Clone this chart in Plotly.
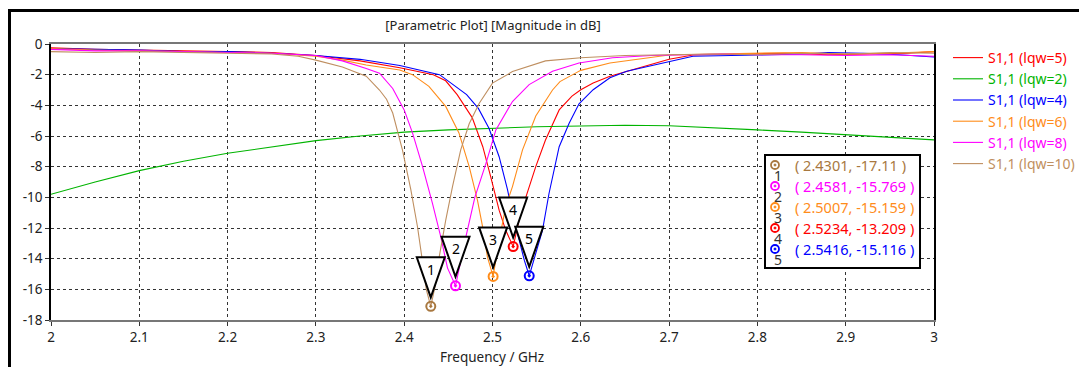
import plotly.graph_objects as go

# ---------------- data ----------------
f_lqw5 = [2.0, 2.05, 2.1, 2.15, 2.2, 2.25, 2.30, 2.35, 2.395, 2.433, 2.447, 2.46, 2.477, 2.489, 2.498,
          2.5075, 2.515, 2.5234, 2.530, 2.5377, 2.549, 2.560, 2.5755, 2.59, 2.6, 2.614, 2.633, 2.671,
          2.7, 2.727, 2.78, 2.83, 2.88, 2.93, 2.97, 3.0]
s_lqw5 = [-0.25, -0.35, -0.4, -0.45, -0.5, -0.55, -0.75, -1.1, -1.55, -2.0, -2.4, -3.3, -4.8, -6.7, -8.66,
          -10.84, -12.15, -13.209, -11.5, -10.0, -8.0, -6.26, -4.3, -3.4, -2.98, -2.55, -2.1, -1.45,
          -1.0, -0.72, -0.65, -0.6, -0.7, -0.65, -0.6, -0.5]

f_lqw2 = [2.0, 2.05, 2.1, 2.15, 2.2, 2.25, 2.3, 2.35, 2.4, 2.45, 2.5, 2.55, 2.6, 2.65, 2.7, 2.75,
          2.8, 2.85, 2.9, 2.95, 3.0]
s_lqw2 = [-9.8, -9.0, -8.26, -7.65, -7.13, -6.7, -6.3, -6.0, -5.75, -5.6, -5.5, -5.4, -5.35, -5.3,
          -5.33, -5.45, -5.6, -5.75, -5.93, -6.08, -6.25]

f_lqw4 = [2.0, 2.05, 2.1, 2.15, 2.2, 2.25, 2.30, 2.35, 2.395, 2.44, 2.4707, 2.484, 2.496, 2.5075, 2.517,
          2.5226, 2.530, 2.536, 2.5416, 2.549, 2.5566, 2.564, 2.5755, 2.5868, 2.598, 2.614, 2.633,
          2.652, 2.7, 2.727, 2.8, 2.85, 2.88, 2.92, 2.96, 3.0]
s_lqw4 = [-0.3, -0.35, -0.4, -0.5, -0.5, -0.6, -0.75, -1.0, -1.4, -2.0, -3.3, -4.2, -5.5, -7.35, -9.5,
          -11.06, -12.8, -14.1, -15.116, -13.7, -12.15, -9.75, -6.7, -5.17, -3.9, -2.98, -2.2,
          -1.78, -1.13, -0.8, -0.72, -0.65, -0.55, -0.6, -0.7, -0.85]

f_lqw6 = [2.0, 2.05, 2.1, 2.15, 2.2, 2.25, 2.30, 2.33, 2.357, 2.395, 2.4094, 2.428, 2.447, 2.462, 2.4736,
          2.483, 2.4887, 2.4943, 2.5007, 2.5075, 2.515, 2.5226, 2.534, 2.549, 2.568, 2.5764, 2.594,
          2.6, 2.633, 2.7, 2.75, 2.8, 2.85, 2.9, 2.95, 3.0]
s_lqw6 = [-0.3, -0.4, -0.45, -0.5, -0.55, -0.6, -0.8, -1.05, -1.37, -1.7, -2.0, -2.76, -4.07, -5.8, -8.0,
          -10.2, -11.9, -13.9, -15.159, -12.8, -10.6, -9.3, -6.9, -4.7, -3.0, -2.45, -1.9,
          -1.72, -1.24, -0.72, -0.65, -0.6, -0.55, -0.65, -0.6, -0.5]

f_lqw8 = [2.0, 2.05, 2.1, 2.15, 2.2, 2.25, 2.30, 2.33, 2.357, 2.372, 2.387, 2.40, 2.4094, 2.4208, 2.432,
          2.4415, 2.449, 2.4581, 2.4698, 2.48, 2.4925, 2.5038, 2.5226, 2.5415, 2.568, 2.598, 2.636,
          2.68, 2.72, 2.76, 2.80, 2.85, 2.90, 2.95, 3.0]
s_lqw8 = [-0.35, -0.45, -0.45, -0.5, -0.55, -0.6, -0.75, -1.1, -1.6, -1.9, -2.9, -4.3, -5.8, -8.0, -10.4,
          -12.6, -14.6, -15.769, -12.6, -10.0, -7.8, -5.6, -3.75, -2.65, -1.78, -1.24, -0.9,
          -0.75, -0.7, -0.65, -0.7, -0.7, -0.75, -0.7, -0.8]

f_lqw10 = [2.0, 2.05, 2.1, 2.15, 2.2, 2.25, 2.28, 2.30, 2.33, 2.357, 2.372, 2.38, 2.387, 2.398, 2.4075,
           2.415, 2.42, 2.425, 2.4301, 2.435, 2.4396, 2.447, 2.4547, 2.464, 2.4736, 2.485, 2.50,
           2.5226, 2.56, 2.60, 2.65, 2.70, 2.75, 2.80, 2.85, 2.90, 2.95, 3.0]
s_lqw10 = [-0.5, -0.55, -0.5, -0.55, -0.6, -0.65, -0.8, -1.05, -1.5, -2.1, -3.0, -3.6, -4.5, -6.9, -9.5,
           -11.9, -13.9, -16.0, -17.11, -15.8, -13.9, -11.5, -9.3, -6.9, -5.2, -3.86, -2.55,
           -1.8, -1.1, -0.9, -0.75, -0.7, -0.65, -0.7, -0.6, -0.65, -0.55, -0.6]

series_names = ["S1,1 (lqw=5)", "S1,1 (lqw=2)", "S1,1 (lqw=4)", "S1,1 (lqw=6)", "S1,1 (lqw=8)", "S1,1 (lqw=10)"]
series_colors = ["#ff0000", "#00b400", "#0000ff", "#ff8c1a", "#ff00ff", "#bf8f60"]
series_f = [f_lqw5, f_lqw2, f_lqw4, f_lqw6, f_lqw8, f_lqw10]
series_s = [s_lqw5, s_lqw2, s_lqw4, s_lqw6, s_lqw8, s_lqw10]

marker_ids = ["1", "2", "3", "4", "5"]
marker_f = [2.4301, 2.4581, 2.5007, 2.5234, 2.5416]
marker_db = [-17.11, -15.769, -15.159, -13.209, -15.116]
marker_colors = ["#a87840", "#ff00ff", "#ff8c1a", "#ff0000", "#0000ff"]

x_ticks = [2.0, 2.1, 2.2, 2.3, 2.4, 2.5, 2.6, 2.7, 2.8, 2.9, 3.0]
x_ticktext = ["2", "2.1", "2.2", "2.3", "2.4", "2.5", "2.6", "2.7", "2.8", "2.9", "3"]
y_ticks = [0, -2, -4, -6, -8, -10, -12, -14, -16, -18]
y_ticktext = ["0", "-2", "-4", "-6", "-8", "-10", "-12", "-14", "-16", "-18"]

# ---------------- layout geometry ----------------
# page body has an 8px margin; all window-pixel positions are shifted by OFF
OFF = 8
W, H = 1087 - OFF, 367 - OFF
L, R, T, B = 51 - OFF, 934 - OFF, 44 - OFF, 320 - OFF


def px(x):
    return (x - OFF - L) / (R - L)


def py(y):
    return (B - (y - OFF)) / (B - T)


FONT = "Noto Sans"

fig = go.Figure()
for name, col, fx, sy in zip(series_names, series_colors, series_f, series_s):
    fig.add_trace(go.Scatter(
        x=fx, y=sy, mode="lines", line=dict(color=col, width=1.1),
        name=f"<span style='color:{col}'>{name}</span>",
    ))

fig.add_trace(go.Scatter(
    x=marker_f, y=marker_db, mode="markers", showlegend=False,
    marker=dict(symbol="circle-open-dot", size=9, color=marker_colors, line=dict(width=2, color=marker_colors)),
))

shapes = []
annotations = []
# triangle labels
for mid, mf, md in zip(marker_ids, marker_f, marker_db):
    shapes.append(dict(
        type="path", xref="x", yref="y", xsizemode="pixel", ysizemode="pixel",
        xanchor=mf, yanchor=md, path="M -14,49 L 14,49 L 0,9 Z",
        fillcolor="white", line=dict(color="black", width=2), layer="above",
    ))
    annotations.append(dict(
        x=mf, y=md, xref="x", yref="y", text=mid, showarrow=False, yshift=37,
        font=dict(family=FONT, size=14, color="black"),
    ))

# readout box
shapes.append(dict(type="rect", xref="paper", yref="paper",
                   x0=px(765), x1=px(920), y0=py(268), y1=py(155),
                   line=dict(color="black", width=2), fillcolor="white", layer="above"))
row_y = [165, 186, 207, 228, 249]
for i, (mid, mf, md, mc) in enumerate(zip(marker_ids, marker_f, marker_db, marker_colors)):
    yy = row_y[i]
    shapes.append(dict(type="circle", xref="paper", yref="paper", xsizemode="pixel", ysizemode="pixel",
                       xanchor=px(775), yanchor=py(yy), x0=-4, x1=4, y0=-4, y1=4,
                       line=dict(color=mc, width=1.8), layer="above"))
    shapes.append(dict(type="circle", xref="paper", yref="paper", xsizemode="pixel", ysizemode="pixel",
                       xanchor=px(775), yanchor=py(yy), x0=-1, x1=1, y0=-1, y1=1,
                       line=dict(color=mc, width=1), fillcolor=mc, layer="above"))
    annotations.append(dict(x=px(778), y=py(yy + 10), xref="paper", yref="paper", text=mid,
                            showarrow=False, xanchor="center", yanchor="middle",
                            font=dict(family=FONT, size=14, color="#333")))
    annotations.append(dict(x=px(793), y=py(yy), xref="paper", yref="paper",
                            text=f"( {mf}, {md} )", showarrow=False, xanchor="left", yanchor="middle",
                            font=dict(family=FONT, size=14.5, color=mc)))

# outer frame
shapes.append(dict(type="rect", xref="paper", yref="paper",
                   x0=px(9.5), x1=px(1100), y0=py(390), y1=py(10.5),
                   line=dict(color="black", width=3), layer="above"))

# x-axis title
annotations.append(dict(x=px(492), y=py(357), xref="paper", yref="paper", text="Frequency / GHz",
                        showarrow=False, xanchor="center", yanchor="middle",
                        font=dict(family=FONT, size=13.5, color="#222")))

fig.update_layout(
    width=W, height=H,
    margin=dict(l=L, r=W - R, t=T, b=H - B, autoexpand=False),
    plot_bgcolor="white", paper_bgcolor="white",
    title=dict(text="[Parametric Plot] [Magnitude in dB]", x=(493 - OFF) / W, y=1 - (25 - OFF) / H,
               xanchor="center", yanchor="middle", font=dict(family=FONT, size=13, color="#222")),
    xaxis=dict(range=[2, 3], tickvals=x_ticks, ticktext=x_ticktext, showgrid=True,
               gridcolor="#333", griddash="3px,3px", gridwidth=1, zeroline=False,
               showline=True, mirror=True, linecolor="#777", linewidth=2,
               ticks="outside", ticklen=4, tickcolor="#333",
               tickfont=dict(family=FONT, size=13.5, color="#222")),
    yaxis=dict(range=[-18, 0], tickvals=y_ticks, ticktext=y_ticktext, showgrid=True,
               gridcolor="#333", griddash="3px,3px", gridwidth=1, zeroline=False,
               showline=True, mirror=True, linecolor="black", linewidth=1.5,
               ticks="outside", ticklen=4, tickcolor="#333",
               tickfont=dict(family=FONT, size=13.5, color="#222")),
    legend=dict(x=px(948), y=py(42), xanchor="left", yanchor="top", bgcolor="rgba(0,0,0,0)",
                font=dict(family=FONT, size=14), tracegroupgap=0, itemwidth=30),
    shapes=shapes, annotations=annotations,
)

fig.write_html("out.html")
